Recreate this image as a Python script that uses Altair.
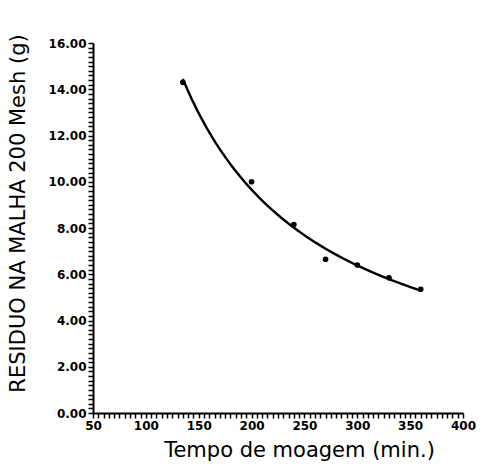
import altair as alt
import pandas as pd

# Data
tempo = [135, 200, 240, 270, 300, 330, 360]          # min.
residuo = [14.3, 10.0, 8.15, 6.65, 6.4, 5.85, 5.35]  # g

# Axis ticks (minor ticks every 5 min / 0.2 g, labels every 50 min / 2 g)
x_ticks = list(range(50, 401, 5))
y_ticks = [round(k * 0.2, 1) for k in range(0, 81)]

df = pd.DataFrame({"t": tempo, "r": residuo})

FONT = "DejaVu Sans"

x_enc = alt.X(
    "t:Q",
    scale=alt.Scale(domain=[50, 400], nice=False, zero=False),
    axis=alt.Axis(
        values=x_ticks,
        format="d",
        labelExpr="datum.value % 50 === 0 ? datum.label : ''",
        labelOverlap=False,
        labelFlush=False,
        labelPadding=2,
        tickSize=5,
        title="Tempo de moagem (min.)",
        titleX=206,
        titleY=43,
        titleAlign="center",
        titleBaseline="alphabetic",
    ),
)
y_enc = alt.Y(
    "r:Q",
    scale=alt.Scale(domain=[0, 16], nice=False, zero=True),
    axis=alt.Axis(
        values=y_ticks,
        format=".2f",
        labelExpr="abs(datum.value % 2) < 0.001 ? datum.label : ''",
        labelOverlap=False,
        labelFlush=False,
        labelPadding=2,
        tickSize=5,
        title="RESIDUO NA MALHA 200 Mesh (g)",
        titleX=-75,
        titleY=170,
        titleAngle=270,
        titleAlign="center",
        titleBaseline="middle",
    ),
)

base = alt.Chart(df)

curve = base.transform_regression("t", "r", method="pow").mark_line(
    color="black", strokeWidth=2.4
).encode(x=x_enc, y=y_enc)

points = base.mark_circle(size=32, color="black", opacity=1).encode(x=x_enc, y=y_enc)

chart = (
    alt.layer(curve, points)
    .properties(
        width=370,
        height=370,
        autosize=alt.AutoSizeParams(type="none"),
        padding={"left": 93, "top": 43, "right": 22, "bottom": 51},
        background="white",
    )
    .configure_view(stroke=None)
    .configure_axis(
        grid=False,
        domainColor="black",
        domainWidth=2,
        tickColor="black",
        tickWidth=1.5,
        labelColor="black",
        labelFont=FONT,
        labelFontSize=12,
        labelFontWeight="bold",
        titleColor="black",
        titleFont=FONT,
        titleFontSize=21,
        titleFontWeight="normal",
    )
)

chart.save("out.html", embed_options={"renderer": "svg", "actions": False})
